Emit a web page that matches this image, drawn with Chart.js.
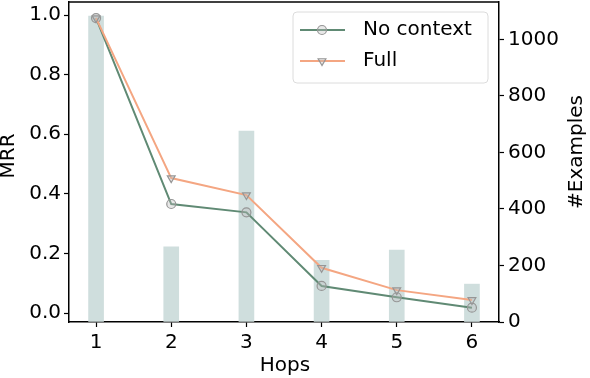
<!DOCTYPE html>
<html>
<head>
<meta charset="utf-8">
<script src="https://cdn.jsdelivr.net/npm/chart.js@4"></script>
<style>
  html, body { margin: 0; padding: 0; background: #fff; }
  #wrap { width: 590px; height: 378px; }
</style>
</head>
<body>
<div id="wrap"><canvas id="chart" width="590" height="378"></canvas></div>
<script>
// data
const hops = [1, 2, 3, 4, 5, 6];
const noContext = [0.99, 0.366, 0.338, 0.091, 0.053, 0.018];
const full = [0.99, 0.453, 0.396, 0.152, 0.077, 0.044];
const examples = [1082, 266, 675, 218, 254, 134];
const mrrTicks = [0, 0.2, 0.4, 0.6, 0.8, 1.0];
const countTicks = [0, 200, 400, 600, 800, 1000];

const FONT = 'DejaVu Sans';
const GREEN = 'rgb(96,138,116)';
const ORANGE = 'rgb(244,166,130)';
const BAR = 'rgb(207,222,221)';
const MARK = 'rgba(150,150,150,1)';
const MARK_FILL = 'rgba(190,190,190,0.35)';

const pts = ys => hops.map((h, i) => ({ x: h, y: ys[i] }));

// top spine, axis titles and legend
const extras = {
  id: 'extras',
  afterDraw(chart) {
    const { ctx, chartArea: a } = chart;
    ctx.save();
    ctx.strokeStyle = '#000';
    ctx.lineWidth = 1.5;
    ctx.beginPath();
    ctx.moveTo(a.left, a.top);
    ctx.lineTo(a.right, a.top);
    ctx.stroke();

    ctx.fillStyle = '#000';
    ctx.font = '20px "' + FONT + '"';
    ctx.textAlign = 'center';
    ctx.textBaseline = 'middle';
    ctx.fillText('Hops', 285, 366);
    [['MRR', 9, 156], ['#Examples', 577, 152]].forEach(([t, x, y]) => {
      ctx.save();
      ctx.translate(x, y);
      ctx.rotate(-Math.PI / 2);
      ctx.fillText(t, 0, 0);
      ctx.restore();
    });

    // legend box
    const bx = 293, by = 12, bw = 195, bh = 71, r = 4;
    ctx.beginPath();
    ctx.roundRect(bx, by, bw, bh, r);
    ctx.fillStyle = 'rgba(255,255,255,0.8)';
    ctx.fill();
    ctx.strokeStyle = '#dcdcdc';
    ctx.lineWidth = 1;
    ctx.stroke();

    const items = [
      { label: 'No context', color: GREEN, style: 'circle', rot: 0, y: 30 },
      { label: 'Full', color: ORANGE, style: 'triangle', rot: 180, y: 61 }
    ];
    ctx.textAlign = 'left';
    items.forEach(it => {
      ctx.strokeStyle = it.color;
      ctx.lineWidth = 2;
      ctx.beginPath();
      ctx.moveTo(300, it.y);
      ctx.lineTo(345, it.y);
      ctx.stroke();
      ctx.fillStyle = MARK_FILL;
      ctx.strokeStyle = MARK;
      ctx.lineWidth = 1.2;
      Chart.helpers.drawPoint(ctx, { pointStyle: it.style, radius: 4.5, rotation: it.rot, borderWidth: 1.2 }, 322, it.y);
      ctx.fillStyle = '#000';
      ctx.fillText(it.label, 363, it.y);
    });
    ctx.restore();
  }
};

const setTicks = vals => scale => { scale.ticks = vals.map(v => ({ value: v })); };
const tickFont = { family: FONT, size: 20 };
const grid = { drawOnChartArea: false, offset: false, tickLength: 5, tickColor: '#000', tickWidth: 1.2 };
const border = { color: '#000', width: 1.5 };

new Chart(document.getElementById('chart'), {
  data: {
    datasets: [
      {
        type: 'line',
        label: 'No context',
        data: pts(noContext),
        yAxisID: 'y',
        borderColor: GREEN,
        borderWidth: 2,
        pointStyle: 'circle',
        pointRadius: 4.5,
        pointBorderColor: MARK,
        pointBackgroundColor: MARK_FILL,
        pointBorderWidth: 1.2,
        order: 1
      },
      {
        type: 'line',
        label: 'Full',
        data: pts(full),
        yAxisID: 'y',
        borderColor: ORANGE,
        borderWidth: 2,
        pointStyle: 'triangle',
        pointRotation: 180,
        pointRadius: 4.5,
        pointBorderColor: MARK,
        pointBackgroundColor: MARK_FILL,
        pointBorderWidth: 1.2,
        order: 0
      },
      {
        type: 'bar',
        label: '#Examples',
        data: pts(examples),
        yAxisID: 'y2',
        backgroundColor: BAR,
        barThickness: 15,
        order: 3
      }
    ]
  },
  options: {
    responsive: false,
    animation: false,
    layout: { autoPadding: false, padding: { top: 2, left: 0, right: 0, bottom: 0 } },
    plugins: { legend: { display: false }, tooltip: { enabled: false } },
    scales: {
      x: {
        type: 'linear',
        offset: false,
        min: 0.64,
        max: 6.36,
        ticks: { color: '#000', font: tickFont, padding: 4, autoSkip: false, maxRotation: 0 },
        afterBuildTicks: setTicks(hops),
        afterFit: s => { s.height = 56; s.paddingLeft = 0; s.paddingRight = 0; },
        grid, border
      },
      y: {
        type: 'linear',
        position: 'left',
        min: -0.03,
        max: 1.044,
        ticks: { color: '#000', font: tickFont, padding: 3, autoSkip: false, callback: v => v.toFixed(1) },
        afterBuildTicks: setTicks(mrrTicks),
        afterFit: s => { s.width = 69; s.paddingTop = 0; s.paddingBottom = 0; },
        grid, border
      },
      y2: {
        type: 'linear',
        position: 'right',
        min: 0,
        max: 1132,
        ticks: { color: '#000', font: tickFont, padding: 4, autoSkip: false, callback: v => String(v) },
        afterBuildTicks: setTicks(countTicks),
        afterFit: s => { s.width = 91; s.paddingTop = 0; s.paddingBottom = 0; },
        grid, border
      }
    }
  },
  plugins: [extras]
});
</script>
</body>
</html>
